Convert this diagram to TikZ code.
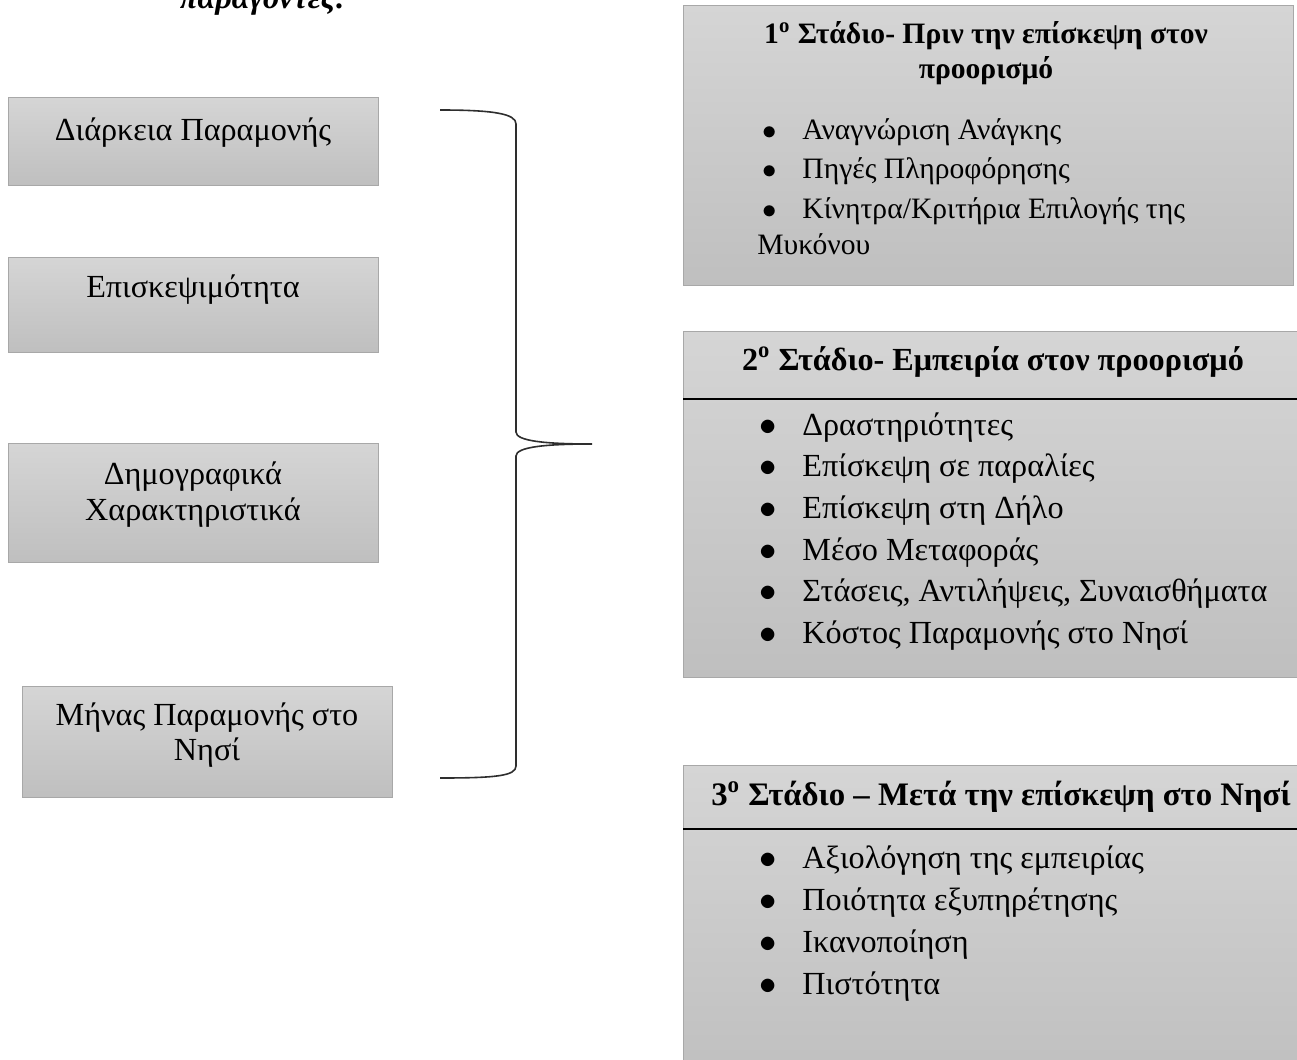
\documentclass[tikz,border=0pt]{standalone}
\usepackage{fontspec}
\setmainfont{Liberation Serif}
\usepackage{tikz}
\usetikzlibrary{positioning}
\definecolor{boxtop}{HTML}{D5D5D5}
\definecolor{boxbot}{HTML}{BFBFBF}
\definecolor{boxline}{HTML}{A8A8A8}
\definecolor{braceline}{HTML}{2E2E2E}
\tikzset{panel/.style={draw=boxline,line width=0.6pt,top color=boxtop,bottom color=boxbot,inner sep=0pt,anchor=north west},
txt/.style={font=\fontsize{16.1}{18}\selectfont,inner sep=0pt,align=center,anchor=base},
head/.style={font=\fontsize{16.1}{20}\selectfont\bfseries,inner sep=0pt,anchor=base},
item/.style={font=\fontsize{16.1}{20}\selectfont,inner sep=0pt,anchor=base west},
brace/.style={braceline,line width=0.8pt}}
\newcommand{\bul}{\llap{$\bullet$\hspace{12.9pt}}}

\begin{document}
\begin{tikzpicture}[x=0.5pt,y=-0.5pt]
\useasboundingbox (0,0) rectangle (1297,1060);
\node[font=\fontsize{16.1}{20}\selectfont\bfseries\itshape,inner sep=0pt,anchor=base] (hdr) at (263,9) {παράγοντες:};
% left column
\node[panel,minimum width=185pt,minimum height=44pt] (dur) at (8,97) {};
\node[panel,minimum width=185pt,minimum height=47.5pt] (vis) at (8,257) {};
\node[panel,minimum width=185pt,minimum height=59.5pt] (dem) at (8,443) {};
\node[panel,minimum width=185pt,minimum height=55.5pt] (mon) at (22,686) {};
\node[txt] (durtxt) at (193,140) {Διάρκεια Παραμονής};
\node[txt] (vistxt) at (193,297) {Επισκεψιμότητα};
\node[txt] (demtxt) at (193,520) {Δημογραφικά\\Χαρακτηριστικά};
\node[txt,font=\fontsize{16.1}{17.5}\selectfont] (montxt) at (207,760) {Μήνας Παραμονής στο\\Νησί};
% brace
\coordinate (brtop) at (440,110);
\coordinate (brtip) at (592,444);
\coordinate (brbot) at (440,778);
\draw[brace] (brtop) .. controls (495,110) and (516,114) .. (516,124) -- (516,432)
  .. controls (516,441) and (545,444) .. (brtip) .. controls (545,444) and (516,447) .. (516,456)
  -- (516,766) .. controls (516,776) and (495,778) .. (brbot);
% stages
\node[panel,minimum width=305pt,minimum height=140pt] (stA) at (683,5) {};
\node[panel,minimum width=315pt,minimum height=173pt] (stB) at (683,331) {};
\node[panel,minimum width=315pt,minimum height=160pt] (stC) at (683,765) {};
\draw[black,line width=0.7pt] (683,399) -- (1310,399);
\draw[black,line width=0.7pt] (683,829) -- (1310,829);
\begin{scope}[head/.append style={font=\fontsize{14.8}{20}\selectfont\bfseries},item/.append style={font=\fontsize{14.8}{20}\selectfont}]
\node[head] (hA1) at (986,43) {1\textsuperscript{o} Στάδιο- Πριν την επίσκεψη στον};
\node[head] (hA2) at (986,78) {προορισμό};
\foreach \t [count=\i] in {Αναγνώριση Ανάγκης,Πηγές Πληροφόρησης,Κίνητρα/Κριτήρια Επιλογής της}
  \node[item] (a\i) at (802,{139+39.5*(\i-1)}) {\bul\t};
\node[item] (a4) at (757,254) {Μυκόνου};
\end{scope}
\node[head] (hB) at (993,370) {2\textsuperscript{o} Στάδιο- Εμπειρία στον προορισμό};
\foreach \t [count=\i] in {Δραστηριότητες,Επίσκεψη σε παραλίες,Επίσκεψη στη Δήλο,Μέσο Μεταφοράς,{Στάσεις, Αντιλήψεις, Συναισθήματα},Κόστος Παραμονής στο Νησί}
  \node[item] (b\i) at (802,{435+41.7*(\i-1)}) {\bul\t};
\node[head,font=\fontsize{16.4}{20}\selectfont\bfseries] (hC) at (1001,805) {3\textsuperscript{o} Στάδιο – Μετά την επίσκεψη στο Νησί};
\foreach \t [count=\i] in {Αξιολόγηση της εμπειρίας,Ποιότητα εξυπηρέτησης,Ικανοποίηση,Πιστότητα}
  \node[item] (c\i) at (802,{868+42*(\i-1)}) {\bul\t};
\end{tikzpicture}
\end{document}
